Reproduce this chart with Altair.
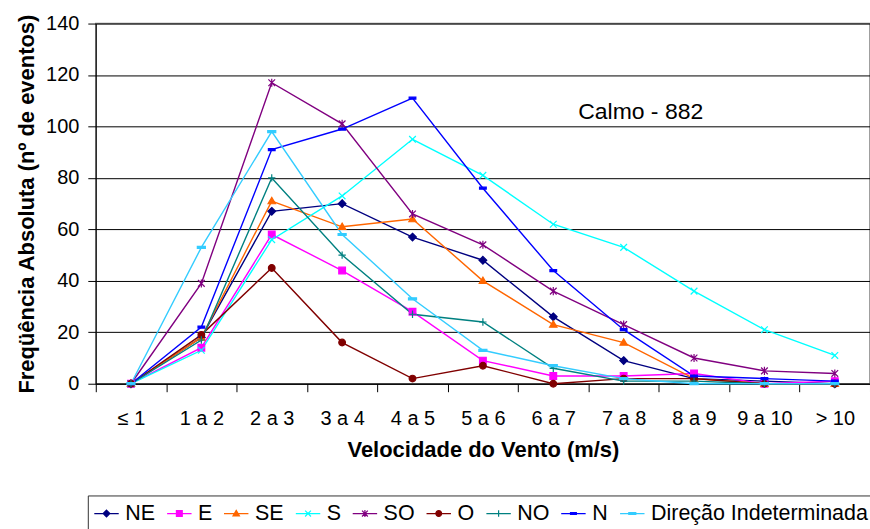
import altair as alt
import pandas as pd

# Wind-speed classes (m/s)
categories = ["≤ 1", "1 a 2", "2 a 3", "3 a 4", "4 a 5", "5 a 6",
              "6 a 7", "7 a 8", "8 a 9", "9 a 10", "> 10"]

# Absolute frequency (number of events) per wind direction
ne = [0, 18, 67, 70, 57, 48, 26, 9, 2, 1, 0]
e = [0, 14, 58, 44, 28, 9, 3, 3, 4, 0, 1]
se = [0, 18, 71, 61, 64, 40, 23, 16, 2, 0, 0]
s = [0, 13, 56, 73, 95, 81, 62, 53, 36, 21, 11]
so = [0, 39, 117, 101, 66, 54, 36, 23, 10, 5, 4]
o = [0, 19, 45, 16, 2, 7, 0, 2, 2, 0, 0]
no = [0, 17, 80, 50, 27, 24, 6, 1, 1, 0, 0]
n = [0, 22, 91, 99, 111, 76, 44, 21, 3, 2, 1]
indeterminada = [0, 53, 98, 58, 33, 13, 7, 2, 0, 0, 0]

series_names = ["NE", "E", "SE", "S", "SO", "O", "NO", "N", "Direção Indeterminada"]
series_values = [ne, e, se, s, so, o, no, n, indeterminada]
series_colors = ["#000080", "#FF00FF", "#FF6600", "#00FFFF", "#800080",
                 "#800000", "#008080", "#0000FF", "#33CCFF"]
# Marker outlines as unit SVG paths
series_shapes = [
    "M0,-1.15L1.15,0L0,1.15L-1.15,0Z",                    # diamond
    "M-1,-1L1,-1L1,1L-1,1Z",                              # square
    "M0,-1.1L1.1,0.8L-1.1,0.8Z",                          # triangle
    "M-1,-1L1,1M-1,1L1,-1",                               # x
    "M-1,-1L1,1M-1,1L1,-1M0,-1.2L0,1.2",                  # asterisk
    "M1,0A1,1,0,1,1,-1,0A1,1,0,1,1,1,0Z",                 # circle
    "M-1.1,0L1.1,0M0,-1.1L0,1.1",                         # plus
    "M-1,-0.3L1,-0.3L1,0.3L-1,0.3Z",                      # short dash
    "M-1.2,-0.3L1.2,-0.3L1.2,0.3L-1.2,0.3Z",              # dash
]
# Legend keys: the same marker with a short line segment through it
legend_shapes = [p + "M-4.2,0L4.2,0" for p in series_shapes]

calm_label = "Calmo - 882"

rows = []
for name, vals in zip(series_names, series_values):
    for cat, v in zip(categories, vals):
        rows.append({"faixa": cat, "direcao": name, "eventos": v})
df = pd.DataFrame(rows)

FONT = "Liberation Sans"

x_scale = alt.Scale(type="band", domain=categories, paddingInner=0, paddingOuter=0)
y_scale = alt.Scale(domain=[0, 140], nice=False)

x_axis = alt.Axis(
    title="Velocidade do Vento (m/s)", titleFontSize=22, titleFontWeight="bold",
    titleFont=FONT, titleColor="black", titlePadding=11,
    labelFont=FONT, labelFontSize=20, labelColor="black", labelAngle=0,
    labelPadding=17, tickBand="extent", tickSize=8, tickColor="black",
    domainColor="black", grid=False,
)
y_axis = alt.Axis(
    title="Freqüência Absoluta (nº de eventos)", titleFontSize=22,
    titleFontWeight="bold", titleFont=FONT, titleColor="black", titlePadding=7,
    labelFont=FONT, labelFontSize=20, labelColor="black", labelPadding=9,
    values=[0, 20, 40, 60, 80, 100, 120, 140], tickSize=8, tickColor="black",
    domainColor="black", grid=True, gridColor="black", gridWidth=1,
)

x_enc = alt.X("faixa:N", scale=x_scale, bandPosition=0.5, axis=x_axis)
y_enc = alt.Y("eventos:Q", scale=y_scale, axis=y_axis)

color_scale = alt.Scale(domain=series_names, range=series_colors)

lines = alt.Chart(df).mark_line(strokeWidth=1.4).encode(
    x=x_enc,
    y=y_enc,
    color=alt.Color("direcao:N", scale=color_scale, legend=None),
)

points = alt.Chart(df).mark_point(filled=True, size=45, strokeWidth=1.2, opacity=1).encode(
    x=x_enc,
    y=y_enc,
    fill=alt.Fill("direcao:N", scale=color_scale, legend=None),
    stroke=alt.Stroke("direcao:N", scale=color_scale, legend=None),
    shape=alt.Shape("direcao:N",
                    scale=alt.Scale(domain=series_names, range=series_shapes),
                    legend=None),
)

# Legend-only layer (no rows drawn): its keys combine line and marker
legend_layer = alt.Chart(df).transform_filter("false").mark_point(
    filled=True, strokeWidth=1.2
).encode(
    x=x_enc,
    y=y_enc,
    fill=alt.Fill("direcao:N", scale=color_scale),
    stroke=alt.Stroke("direcao:N", scale=color_scale),
    shape=alt.Shape(
        "direcao:N",
        scale=alt.Scale(domain=series_names, range=legend_shapes),
        legend=alt.Legend(
            orient="none", legendX=-8, legendY=473, direction="horizontal",
            columns=9, title=None, labelFont=FONT, labelFontSize=21.5,
            labelColor="black", labelLimit=0, labelOffset=8, columnPadding=9,
            symbolOffset=1, symbolSize=34, symbolStrokeWidth=1.2,
            symbolOpacity=1, padding=7, strokeColor="#333333",
        ),
    ),
)

calm = alt.Chart(pd.DataFrame({"faixa": ["6 a 7"], "eventos": [105.5],
                               "texto": [calm_label]})).mark_text(
    align="left", baseline="middle", dx=25, font=FONT, fontSize=23, color="black"
).encode(
    x=alt.X("faixa:N", scale=x_scale, bandPosition=0.5),
    y=alt.Y("eventos:Q", scale=y_scale),
    text="texto:N",
)

chart = alt.layer(lines, points, legend_layer, calm).resolve_scale(
    fill="independent", stroke="independent", shape="independent"
).resolve_legend(
    fill="independent", stroke="independent", shape="independent"
).properties(
    width=776, height=361,
    autosize=alt.AutoSizeParams(type="none"),
    padding={"left": 96, "top": 23, "right": 0, "bottom": 145},
    background="white",
).configure_view(
    stroke="#808080", strokeWidth=1.5
)

chart.save("out.html", embed_options={"renderer": "svg", "actions": False})
